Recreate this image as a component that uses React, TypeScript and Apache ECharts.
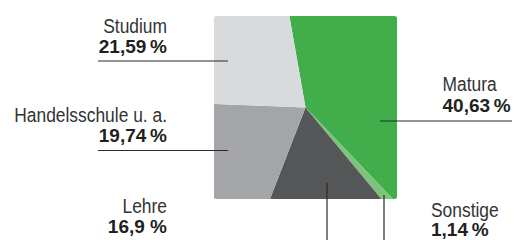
import { useEffect, useRef } from 'react';
import * as echarts from 'echarts';

const categories = ['Matura', 'Sonstige', 'Lehre', 'Handelsschule u. a.', 'Studium'];
const shares = [40.63, 1.14, 16.9, 19.74, 21.59];
const shareLabels = ['40,63\u2009%', '1,14\u2009%', '16,9 %', '19,74\u2009%', '21,59\u2009%'];
const colors = ['#42ad4b', '#7cc47b', '#555658', '#a4a5a8', '#d9dadc'];

const maskPath =
  'M150,-40 H470 V280 H150 Z M214,18.5 V196.5 Q214,199 216.5,199 H394.5 Q397,199 397,196.5 V18.5 Q397,16 394.5,16 H216.5 Q214,16 214,18.5 Z';
echarts.graphic.registerShape('squareMask', echarts.graphic.extendPath(maskPath, {}));

type Lay = { align: 'left' | 'right'; x: number; nameY: number; valY: number; line: number[] };
const layout: Lay[] = [
  { align: 'left', x: 442.5, nameY: 91, valY: 112, line: [380, 121, 512, 121] },
  { align: 'left', x: 431, nameY: 216.5, valY: 236.5, line: [384, 195, 384, 240] },
  { align: 'right', x: 167, nameY: 213, valY: 233, line: [327, 183, 327, 240] },
  { align: 'right', x: 167, nameY: 122, valY: 142.5, line: [98, 150.5, 228, 150.5] },
  { align: 'right', x: 167, nameY: 33, valY: 53, line: [98, 61, 228, 61] },
];

const NAME_FS = 20;
const NAME_SX = 0.87;
const VAL_FS = 19;

export default function App() {
  const ref = useRef<HTMLDivElement>(null);
  useEffect(() => {
    if (!ref.current) return;
    const chart = echarts.init(ref.current, undefined, { renderer: 'svg' });
    const elements: any[] = [
      { type: 'squareMask', x: 0, y: 0, z: 10, silent: true, style: { fill: '#ffffff' } },
    ];
    categories.forEach((c, i) => {
      const l = layout[i];
      elements.push({
        type: 'line',
        z: 20,
        silent: true,
        shape: { x1: l.line[0], y1: l.line[1], x2: l.line[2], y2: l.line[3] },
        style: { stroke: '#2b2b2b', lineWidth: 1.2 },
      });
      elements.push({
        type: 'text',
        z: 21,
        silent: true,
        x: l.x,
        y: l.nameY - 0.3465 * NAME_FS,
        scaleX: NAME_SX,
        scaleY: 1,
        style: {
          text: c,
          x: 0,
          y: 0,
          align: l.align,
          verticalAlign: 'middle',
          fontFamily: '"Liberation Sans", Arial, sans-serif',
          fontSize: NAME_FS,
          fill: '#333333',
        },
      });
      elements.push({
        type: 'text',
        z: 21,
        silent: true,
        style: {
          text: shareLabels[i],
          x: l.x,
          y: l.valY - 0.3465 * VAL_FS,
          align: l.align,
          verticalAlign: 'middle',
          fontFamily: '"Liberation Sans", Arial, sans-serif',
          fontWeight: 'bold',
          fontSize: VAL_FS,
          fill: '#231f20',
        },
      });
    });
    chart.setOption({
      animation: false,
      backgroundColor: '#ffffff',
      series: [
        {
          type: 'pie',
          center: [305.5, 107.5],
          radius: 140,
          startAngle: 100,
          clockwise: true,
          silent: true,
          z: 2,
          label: { show: false },
          labelLine: { show: false },
          itemStyle: { borderWidth: 0 },
          emphasis: { disabled: true },
          data: categories.map((c, i) => ({
            name: c,
            value: shares[i],
            itemStyle: { color: colors[i] },
          })),
        },
      ],
      graphic: { elements },
    });
    return () => chart.dispose();
  }, []);
  return (
    <div
      ref={ref}
      style={{ position: 'fixed', left: 0, top: 0, width: 514, height: 240 }}
    />
  );
}
